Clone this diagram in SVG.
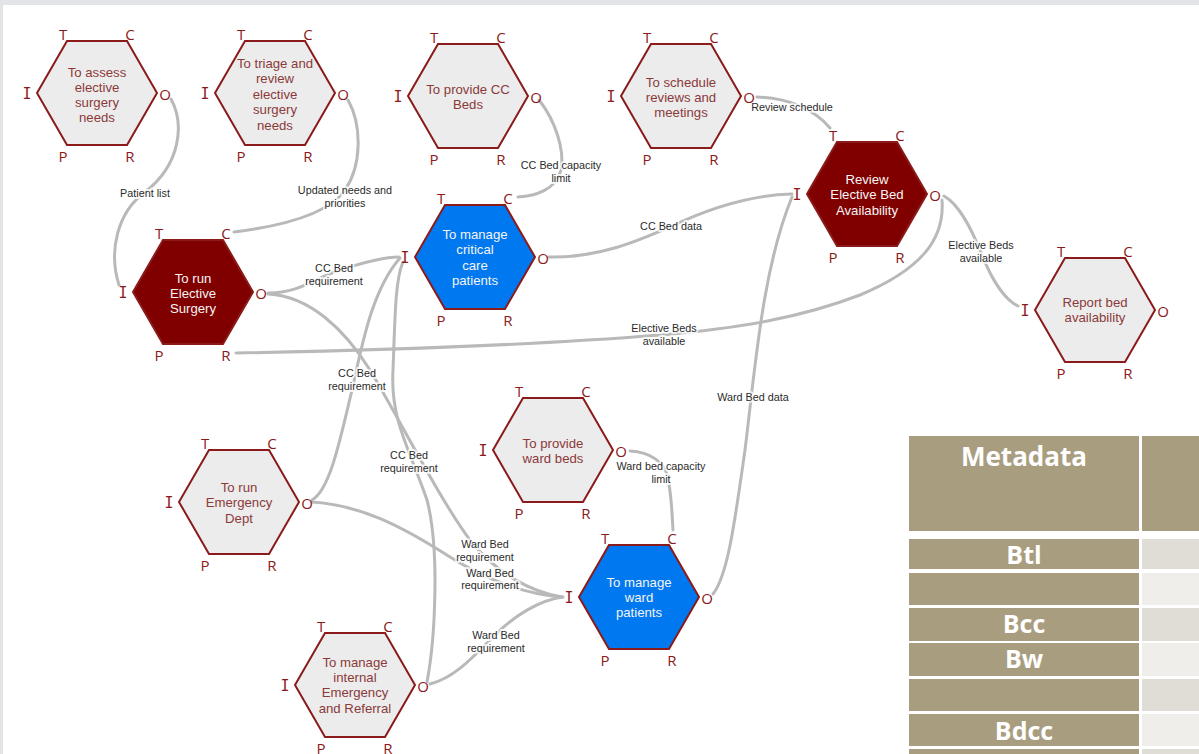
<svg xmlns="http://www.w3.org/2000/svg" xmlns:xlink="http://www.w3.org/1999/xlink" width="1199" height="754" viewBox="0 0 1199 754">
<style>
.hx{stroke:#8b1a1a;stroke-width:2;stroke-linejoin:miter}
.light{fill:#ececec}
.dark{fill:#800000}
.blue{fill:#0078f0}
.port text{font-family:"Open Sans","Liberation Sans",sans-serif;font-size:15px;fill:#8b1a1a;text-anchor:middle;dominant-baseline:central}
.port text.i{font-family:"DejaVu Sans Mono",monospace}
.t{font-family:"Liberation Sans",Arial,sans-serif;font-size:13.2px;text-anchor:middle}
.tl{fill:#8b3a3a}
.tw{fill:#f4f4f4}
.conn path{fill:none;stroke:#b9b9b9;stroke-width:3;stroke-linecap:round}
.lbl{font-family:"Liberation Sans",Arial,sans-serif;font-size:10.8px;fill:#2b2b2b;text-anchor:middle;stroke:#ffffff;stroke-opacity:0.75;stroke-width:4;paint-order:stroke;stroke-linejoin:round}
.tan{fill:#a99d80}
.c1{fill:#e0ddd6}
.c2{fill:#efeeea}
.mt{font-family:"Open Sans","Liberation Sans",sans-serif;font-weight:700;fill:#ffffff;text-anchor:middle}
</style>
<defs>
<polygon id="hex" points="-60,0 -30,-52 30,-52 60,0 30,52 -30,52"/>
<g id="ports" class="port">
<text x="-34" y="-59">T</text>
<text x="33" y="-59">C</text>
<text class="i" x="-70" y="1">I</text>
<text x="68" y="1">O</text>
<text x="-34" y="63">P</text>
<text x="33" y="63">R</text>
</g>
</defs>
<rect x="0" y="0" width="1199" height="754" fill="#e2e4e8"/>
<rect x="3" y="5" width="1196" height="749" fill="#ffffff"/>

<g id="metadata-table">
<rect class="tan" x="909" y="436" width="230" height="95"/>
<rect class="tan" x="1142" y="436" width="57" height="95"/>
<text class="mt" x="1024" y="466" font-size="26">Metadata</text>
<rect class="tan" x="909" y="539" width="230" height="30"/><rect class="c1" x="1142" y="539" width="57" height="30"/>
<text class="mt" x="1024" y="564" font-size="25">Btl</text>
<rect class="tan" x="909" y="573" width="230" height="32"/><rect class="c2" x="1142" y="573" width="57" height="32"/>
<rect class="tan" x="909" y="608" width="230" height="33"/><rect class="c1" x="1142" y="608" width="57" height="33"/>
<text class="mt" x="1024" y="633" font-size="25">Bcc</text>
<rect class="tan" x="909" y="643" width="230" height="33"/><rect class="c2" x="1142" y="643" width="57" height="33"/>
<text class="mt" x="1024" y="668" font-size="25">Bw</text>
<rect class="tan" x="909" y="679" width="230" height="32"/><rect class="c1" x="1142" y="679" width="57" height="32"/>
<rect class="tan" x="909" y="714" width="230" height="32"/><rect class="c2" x="1142" y="714" width="57" height="32"/>
<text class="mt" x="1024" y="740" font-size="25">Bdcc</text>
<rect class="tan" x="909" y="749" width="230" height="5"/><rect class="c1" x="1142" y="749" width="57" height="5"/>
</g>

<g id="connectors" class="conn">
<path d="M171 99 C185 125 180 165 145 192 C118 212 108 250 119 285"/>
<path d="M348 100 C362 125 362 165 345 190 C330 212 290 225 234 232"/>
<path d="M539 100 C555 120 565 150 561 170 C556 190 535 196 518 197"/>
<path d="M757 97 C790 98 815 110 830 128"/>
<path d="M944 196 C960 205 972 230 982 255 C992 280 1005 300 1018 306"/>
<path d="M942 200 C945 240 920 270 860 295 C800 318 740 328 660 335 C560 343 400 350 236 353"/>
<path d="M549 257 C600 258 640 240 672 226 C710 208 750 195 792 194"/>
<path d="M713 594 C728 575 735 520 745 450 C755 370 762 270 792 197"/>
<path d="M268 293 C300 293 315 278 340 270 C365 262 385 257 399 257"/>
<path d="M268 294 C310 296 345 330 370 370 C400 420 440 500 470 540 C495 572 530 592 562 597"/>
<path d="M312 500 C330 490 340 440 352 390 C362 345 372 290 400 258"/>
<path d="M427 682 C435 640 440 550 427 500 C410 450 390 420 393 370 C395 320 395 280 403 262"/>
<path d="M312 502 C360 505 400 525 450 557 C490 582 530 595 562 597"/>
<path d="M430 684 C455 678 475 655 495 635 C515 615 540 600 563 597"/>
<path d="M630 451 C650 452 665 462 668 478 C672 500 672 515 673 530"/>
</g>

<g id="connector-labels">
<text class="lbl" x="145" y="197">Patient list</text>
<text class="lbl"><tspan x="345" y="194">Updated needs and</tspan><tspan x="345" y="206.5">priorities</tspan></text>
<text class="lbl"><tspan x="561" y="169">CC Bed capacity</tspan><tspan x="561" y="181.5">limit</tspan></text>
<text class="lbl" x="792" y="111">Review schedule</text>
<text class="lbl"><tspan x="981" y="249">Elective Beds</tspan><tspan x="981" y="261.5">available</tspan></text>
<text class="lbl"><tspan x="664" y="332">Elective Beds</tspan><tspan x="664" y="344.5">available</tspan></text>
<text class="lbl" x="671" y="230">CC Bed data</text>
<text class="lbl" x="753" y="401">Ward Bed data</text>
<text class="lbl"><tspan x="334" y="272">CC Bed</tspan><tspan x="334" y="284.5">requirement</tspan></text>
<text class="lbl"><tspan x="357" y="377">CC Bed</tspan><tspan x="357" y="389.5">requirement</tspan></text>
<text class="lbl"><tspan x="409" y="459">CC Bed</tspan><tspan x="409" y="471.5">requirement</tspan></text>
<text class="lbl"><tspan x="485" y="548">Ward Bed</tspan><tspan x="485" y="560.5">requirement</tspan></text>
<text class="lbl"><tspan x="490" y="576.5">Ward Bed</tspan><tspan x="490" y="589">requirement</tspan></text>
<text class="lbl"><tspan x="496" y="639">Ward Bed</tspan><tspan x="496" y="651.5">requirement</tspan></text>
<text class="lbl"><tspan x="661" y="470">Ward bed capacity</tspan><tspan x="661" y="482.5">limit</tspan></text>
</g>

<g id="node-assess">
<use xlink:href="#hex" href="#hex" class="hx light" x="97" y="93"/>
<use xlink:href="#ports" href="#ports" x="97" y="93"/>
<text class="t tl"><tspan x="97" y="76.5">To assess</tspan><tspan x="97" y="91.5">elective</tspan><tspan x="97" y="106.5">surgery</tspan><tspan x="97" y="121.5">needs</tspan></text>
</g>
<g id="node-triage">
<use xlink:href="#hex" href="#hex" class="hx light" x="275" y="93"/>
<use xlink:href="#ports" href="#ports" x="275" y="93"/>
<text class="t tl"><tspan x="275" y="67.5">To triage and</tspan><tspan x="275" y="83">review</tspan><tspan x="275" y="98.5">elective</tspan><tspan x="275" y="114">surgery</tspan><tspan x="275" y="129.5">needs</tspan></text>
</g>
<g id="node-provide-cc">
<use xlink:href="#hex" href="#hex" class="hx light" x="468" y="96"/>
<use xlink:href="#ports" href="#ports" x="468" y="96"/>
<text class="t tl"><tspan x="468" y="93.5">To provide CC</tspan><tspan x="468" y="108.5">Beds</tspan></text>
</g>
<g id="node-schedule">
<use xlink:href="#hex" href="#hex" class="hx light" x="681" y="96"/>
<use xlink:href="#ports" href="#ports" x="681" y="96"/>
<text class="t tl"><tspan x="681" y="86.5">To schedule</tspan><tspan x="681" y="101.5">reviews and</tspan><tspan x="681" y="116.5">meetings</tspan></text>
</g>
<g id="node-review">
<use xlink:href="#hex" href="#hex" class="hx dark" x="867" y="194"/>
<use xlink:href="#ports" href="#ports" x="867" y="194"/>
<text class="t tw"><tspan x="867" y="183.5">Review</tspan><tspan x="867" y="199">Elective Bed</tspan><tspan x="867" y="214.5">Availability</tspan></text>
</g>
<g id="node-report">
<use xlink:href="#hex" href="#hex" class="hx light" x="1095" y="310"/>
<use xlink:href="#ports" href="#ports" x="1095" y="310"/>
<text class="t tl"><tspan x="1095" y="306.5">Report bed</tspan><tspan x="1095" y="322">availability</tspan></text>
</g>
<g id="node-elective">
<use xlink:href="#hex" href="#hex" class="hx dark" x="193" y="292"/>
<use xlink:href="#ports" href="#ports" x="193" y="292"/>
<text class="t tw"><tspan x="193" y="282.5">To run</tspan><tspan x="193" y="297.5">Elective</tspan><tspan x="193" y="312.5">Surgery</tspan></text>
</g>
<g id="node-critical-care">
<use xlink:href="#hex" href="#hex" class="hx blue" x="475" y="257"/>
<use xlink:href="#ports" href="#ports" x="475" y="257"/>
<text class="t tw"><tspan x="475" y="238.5">To manage</tspan><tspan x="475" y="254">critical</tspan><tspan x="475" y="269.5">care</tspan><tspan x="475" y="285">patients</tspan></text>
</g>
<g id="node-provide-ward">
<use xlink:href="#hex" href="#hex" class="hx light" x="553" y="450"/>
<use xlink:href="#ports" href="#ports" x="553" y="450"/>
<text class="t tl"><tspan x="553" y="447.5">To provide</tspan><tspan x="553" y="462.5">ward beds</tspan></text>
</g>
<g id="node-emergency">
<use xlink:href="#hex" href="#hex" class="hx light" x="239" y="502"/>
<use xlink:href="#ports" href="#ports" x="239" y="502"/>
<text class="t tl"><tspan x="239" y="491.5">To run</tspan><tspan x="239" y="507">Emergency</tspan><tspan x="239" y="522.5">Dept</tspan></text>
</g>
<g id="node-ward">
<use xlink:href="#hex" href="#hex" class="hx blue" x="639" y="597"/>
<use xlink:href="#ports" href="#ports" x="639" y="597"/>
<text class="t tw"><tspan x="639" y="586.5">To manage</tspan><tspan x="639" y="601.5">ward</tspan><tspan x="639" y="616.5">patients</tspan></text>
</g>
<g id="node-internal">
<use xlink:href="#hex" href="#hex" class="hx light" x="355" y="685"/>
<use xlink:href="#ports" href="#ports" x="355" y="685"/>
<text class="t tl"><tspan x="355" y="666.5">To manage</tspan><tspan x="355" y="681.5">internal</tspan><tspan x="355" y="697">Emergency</tspan><tspan x="355" y="712.5">and Referral</tspan></text>
</g>
</svg>
